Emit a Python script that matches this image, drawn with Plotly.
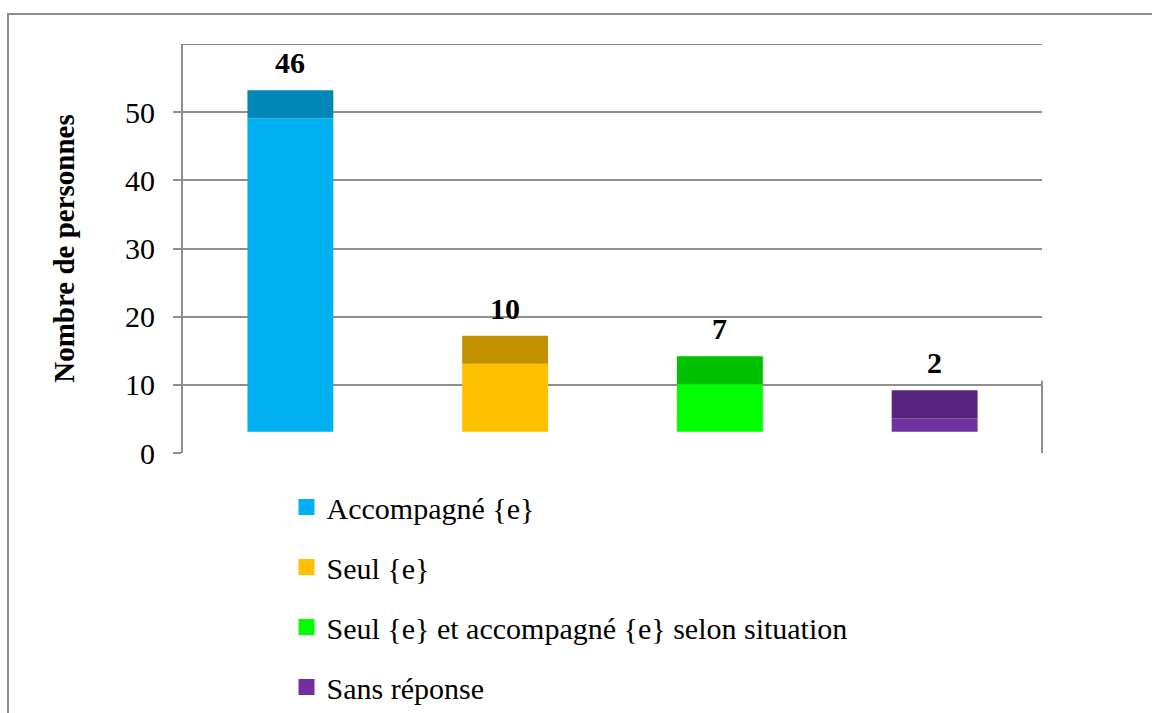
import plotly.graph_objects as go

categories = ["Accompagné {e}", "Seul {e}", "Seul {e} et accompagné {e} selon situation", "Sans réponse"]
values = [46, 10, 7, 2]
front_colors = ["#00B0F0", "#FFC000", "#00FF00", "#7030A0"]
top_colors = ["#0087B8", "#C29100", "#00C200", "#56247E"]
y_ticks = [0, 10, 20, 30, 40, 50]

FLOOR = 3.1   # visual offset of bar front bottom (3D look)
DEPTH = 4.1   # visual depth of bar top face

SERIF = "Liberation Serif, Times New Roman, serif"
GRID = "#8E8E8E"

fig = go.Figure()
for cat, v, fc, tc in zip(categories, values, front_colors, top_colors):
    fig.add_trace(go.Bar(x=[cat], y=[v], base=[FLOOR], width=0.4, marker=dict(color=fc, line=dict(width=0)),
                         showlegend=False, hoverinfo="skip"))
    fig.add_trace(go.Bar(x=[cat], y=[DEPTH], base=[FLOOR + v], width=0.4, marker=dict(color=tc, line=dict(width=0)),
                         showlegend=False, hoverinfo="skip"))
    fig.add_trace(go.Scatter(x=[None], y=[None], mode="markers", name=cat, legendgroup=cat,
                             marker=dict(symbol="square", size=16, color=fc)))
    fig.add_annotation(x=cat, y=FLOOR + v + DEPTH, text=f"<b>{v}</b>", showarrow=False,
                       yanchor="bottom", yshift=9, font=dict(family=SERIF, size=30, color="black"))

# top border line (60 level) and right lower edge
fig.add_shape(type="line", xref="paper", yref="y", x0=0, x1=1, y0=60, y1=60, line=dict(color=GRID, width=2))
fig.add_shape(type="line", xref="paper", yref="y", x0=1, x1=1, y0=0, y1=10.6, line=dict(color=GRID, width=2))
# outer chart frame
L, T = 183, 44
W, H = 859, 409
fig.add_shape(type="rect", xref="paper", yref="paper",
              x0=(8 - L) / W, x1=(1170 - L) / W, y0=(453 - 730) / H, y1=(453 - 14) / H,
              line=dict(color="#8C8C8C", width=2), layer="below")

fig.update_layout(
    width=1152, height=713,
    margin=dict(l=183, r=110, t=44, b=260, autoexpand=False),
    paper_bgcolor="white", plot_bgcolor="white",
    barmode="overlay",
    font=dict(family=SERIF, color="black"),
    legend=dict(x=0.1205, y=-0.0685, xanchor="left", yanchor="top", orientation="v",
                font=dict(family=SERIF, size=30, color="black"),
                tracegroupgap=18, itemwidth=30, bgcolor="rgba(0,0,0,0)"),
    xaxis=dict(range=[-0.5, 3.5], showticklabels=False, showgrid=False, zeroline=False, showline=False, ticks=""),
    yaxis=dict(range=[0, 60], tickvals=y_ticks, showgrid=True, gridcolor=GRID, gridwidth=2,
               zeroline=False, showline=True, linecolor=GRID, linewidth=2,
               ticks="outside", ticklen=8, tickcolor=GRID, tickwidth=2,
               ticklabelstandoff=12,
               tickfont=dict(family=SERIF, size=30, color="black"),
               title=dict(text="<b>Nombre de personnes</b>", standoff=42,
                          font=dict(family=SERIF, size=29, color="black"))),
)

fig.write_html("out.html", config={"displayModeBar": False},
               post_script="document.body.style.margin='0';")
